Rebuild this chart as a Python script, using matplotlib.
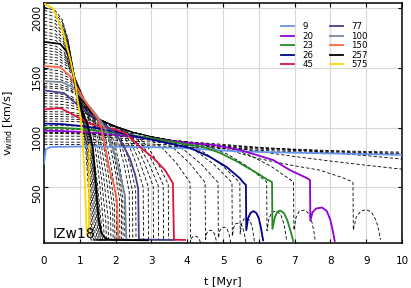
import numpy as np
import matplotlib.pyplot as plt

# ---------------- coloured tracks (initial mass in Msun) ----------------
masses = [9, 20, 23, 26, 45, 77, 100, 150, 257, 575]
colors = ['#6495ed', '#9400d3', '#228b22', '#00008b', '#dc143c',
          '#483d8b', '#778899', '#ff6347', 'k', '#ffd700']

t_9 = [0, 0.05, 0.2, 1, 2, 3, 3.8, 5.5, 7, 8.5, 10]
v_9 = [700, 820, 838, 842, 840, 836, 830, 800, 790, 781, 772]
t_20 = [0, 0.5, 1, 1.5, 2, 2.5, 3, 3.5, 4, 4.72, 5.47, 6.4, 6.87, 7.35, 7.43,
        7.44, 7.5, 7.6, 7.77, 7.9, 8.0, 8.07, 8.12]
v_20 = [975, 972, 965, 955, 940, 925, 905, 890, 872, 856, 813, 729, 644, 576, 560,
        220, 290, 322, 330, 300, 225, 130, 50]
t_23 = [0, 0.5, 1, 1.5, 2, 2.5, 3, 3.5, 4, 4.44, 4.92, 5.4, 5.95, 6.26, 6.3, 6.37,
        6.38, 6.45, 6.52, 6.6, 6.7, 6.8, 6.9, 6.96]
v_23 = [1000, 998, 990, 975, 955, 935, 910, 885, 860, 839, 788, 715, 619, 560, 556, 542,
        150, 250, 295, 305, 285, 220, 120, 50]
t_26 = [0, 0.5, 1, 1.5, 2, 2.5, 3, 3.5, 4.08, 4.64, 5.1, 5.47, 5.56, 5.64,
        5.65, 5.7, 5.77, 5.85, 5.93, 6.0, 6.06, 6.12]
v_26 = [1034, 1030, 1015, 995, 965, 930, 900, 868, 830, 754, 670, 576, 542, 520,
        140, 240, 285, 300, 285, 240, 160, 55]
t_45 = [0, 0.45, 0.81, 1.28, 1.6, 2.0, 2.3, 2.68, 3.05, 3.38, 3.55, 3.6, 3.63, 3.94]
v_45 = [1153, 1165, 1110, 1034, 1010, 985, 950, 839, 746, 644, 560, 534, 60, 58]
t_77 = [0, 0.56, 1.1, 1.5, 1.98, 2.2, 2.4, 2.55, 2.63, 2.65, 3.6]
v_77 = [1313, 1290, 1150, 1070, 958, 860, 740, 600, 490, 62, 58]
t_100 = [0, 0.5, 0.8, 1.1, 1.4, 1.6, 1.76, 1.95, 2.1, 2.26, 2.3, 2.45]
v_100 = [1390, 1382, 1340, 1240, 1130, 1050, 958, 800, 640, 432, 62, 58]
t_150 = [0, 0.45, 0.73, 1.0, 1.2, 1.37, 1.5, 1.6, 1.7, 1.8, 1.95, 2.04, 2.07, 2.2]
v_150 = [1517, 1508, 1432, 1297, 1200, 1127, 1080, 1000, 850, 680, 520, 390, 62, 58]
t_257 = [0, 0.45, 0.64, 0.78, 0.87, 0.95, 1.09, 1.2, 1.3, 1.37, 1.43, 1.48, 1.53,
         1.6, 1.7, 1.85, 2.9]
v_257 = [1720, 1703, 1636, 1508, 1347, 1237, 1110, 1040, 930, 814, 600, 390, 220,
         120, 75, 60, 55]
t_575 = [0, 0.25, 0.53, 0.73, 0.87, 0.95, 1.02, 1.08, 1.14, 1.19, 1.22, 1.25, 1.27]
v_575 = [2042, 2000, 1805, 1576, 1381, 1212, 1090, 900, 560, 140, 95, 110, 856]

col_t = [t_9, t_20, t_23, t_26, t_45, t_77, t_100, t_150, t_257, t_575]
col_v = [v_9, v_20, v_23, v_26, v_45, v_77, v_100, v_150, v_257, v_575]

# ---------------- dashed tracks, other masses ----------------
# common "bundle" the tracks settle onto
env_t = [0.8, 1.0, 1.2, 1.4, 1.6, 1.8, 2.0, 2.5, 3.0, 3.5, 4.0, 5.0, 6.0, 8.0, 10.0]
env_v = [1170, 1140, 1112, 1088, 1062, 1035, 1010, 960, 925, 898, 880, 855, 835, 810, 795]
# shapes (relative time, relative drop)
head_s = [0, 0.3, 0.5, 0.65, 0.8, 0.9, 1.0]
head_f = [0, 0.03, 0.12, 0.3, 0.6, 0.82, 1.0]
fall_r = [0, 0.25, 0.5, 0.75, 0.9, 1.0]
fall_g = [0, 0.1, 0.3, 0.6, 0.84, 1.0]
arch_u = [0, 0.1, 0.25, 0.5, 0.7, 0.85, 0.95, 1.0]
arch_a = [0.45, 0.8, 0.97, 1.0, 0.9, 0.65, 0.35, 0.15]

# per track: start v, merge time, leave time, end time, v at collapse, arch peak, arch width
d_v0 = [2010, 1985, 1955, 1925, 1895, 1865, 1835, 1805, 1780, 1750,
        1700, 1675, 1650, 1625, 1600, 1575, 1545,
        1490, 1465, 1440, 1415,
        1370, 1350, 1335,
        1290, 1270, 1250, 1225, 1200, 1175,
        1135, 1115, 1095, 1075, 1055,
        1017, 988]
d_tc = [1.02, 1.03, 1.04, 1.05, 1.06, 1.07, 1.08, 1.09, 1.1, 1.11,
        1.14, 1.17, 1.2, 1.23, 1.26, 1.3, 1.34,
        1.38, 1.4, 1.42, 1.44,
        1.46, 1.48, 1.5,
        1.5, 1.52, 1.55, 1.58, 1.6, 1.62,
        1.7, 1.75, 1.8, 1.9, 2.0,
        2.3, 2.6]
d_tl = [1.02, 1.03, 1.04, 1.05, 1.06, 1.07, 1.08, 1.09, 1.1, 1.11,
        1.2, 1.25, 1.3, 1.35, 1.4, 1.45, 1.5,
        1.55, 1.6, 1.65, 1.7,
        1.8, 1.85, 1.9,
        1.95, 2.0, 2.05, 2.1, 2.2, 2.3,
        2.5, 2.8, 3.0, 3.3, 3.5,
        4.0, 4.5]
d_te = [1.3, 1.34, 1.38, 1.42, 1.46, 1.5, 1.53, 1.56, 1.59, 1.62,
        1.67, 1.73, 1.79, 1.86, 1.92, 1.97, 2.02,
        2.11, 2.16, 2.2, 2.25,
        2.38, 2.47, 2.56,
        2.77, 2.91, 3.05, 3.19, 3.33, 3.47,
        4.08, 4.5, 4.86, 5.25, 5.47,
        6.22, 6.97]
d_vb = [130] * 10 + [160, 200, 240, 280, 310, 340, 370] + [400, 410, 420, 430] + \
       [460, 470, 480] + [500, 505, 510, 515, 520, 525] + [540] * 5 + [545, 545]
d_arch = [0] * 30 + [90, 140, 165, 200, 240, 300, 310]
d_aw = [0] * 30 + [0.3, 0.32, 0.35, 0.38, 0.4, 0.55, 0.6]

# long-lived low-mass tracks
low_t = [0, 1, 2, 3, 4, 5, 6, 7, 8, 9, 10]
lo_a = [953, 948, 930, 905, 882, 860, 835, 815, 790, 765, 737]
lo_b = [957, 952, 935, 908, 875, 845, 800, 758, 720, 685, 652]
lo_c = [930, 928, 915, 895, 872, 852, 833, 820, 808, 800, 795]
lo_d = [905, 903, 895, 880, 862, 845, 828, 815, 803, 793, 786]
lo_e = [880, 878, 872, 862, 850, 835, 820, 808, 797, 787, 780]
lo_f = [860, 858, 855, 848, 838, 825, 810, 798, 788, 779, 774]
t_18 = [0, 1, 2, 3, 4, 5, 6, 7, 7.7, 8.3, 8.6, 8.63, 8.64, 8.72, 8.85, 9.0, 9.15,
        9.28, 9.35, 9.4]
v_18 = [962, 957, 938, 912, 880, 825, 740, 680, 644, 585, 548, 540, 140, 250, 300,
        313, 290, 220, 140, 60]

v_floor = 58
floor_run = 0.25


def dashed_track(v0, tc, tl, te, vb, arch, aw):
    vc = np.interp(tc, env_t, env_v)
    vl = np.interp(tl, env_t, env_v)
    t = [s * tc for s in head_s]
    v = [v0 + (vc - v0) * f for f in head_f]
    for a, b in zip(env_t, env_v):
        if tc < a < tl:
            t.append(a)
            v.append(b)
    for r, g in zip(fall_r, fall_g):
        t.append(tl + r * (te - tl))
        v.append(vl + (vb - vl) * g)
    if arch > 0:
        for u, a in zip(arch_u, arch_a):
            t.append(te + 0.01 + u * aw)
            v.append(arch * a)
    else:
        t += [te + 0.01, te + floor_run]
        v += [v_floor, v_floor]
    return t, v


fig = plt.figure(figsize=(4.11, 2.88), dpi=100)
ax = fig.add_axes([0.1071, 0.1552, 0.8710, 0.8361])

dash_kw = dict(color='k', lw=0.6, dashes=(4, 2.5), zorder=2)
for i in range(len(d_v0)):
    t, v = dashed_track(d_v0[i], d_tc[i], d_tl[i], d_te[i], d_vb[i], d_arch[i], d_aw[i])
    ax.plot(t, v, **dash_kw)
for lo in [lo_a, lo_b, lo_c, lo_d, lo_e, lo_f]:
    ax.plot(low_t, lo, **dash_kw)
ax.plot(t_18, v_18, **dash_kw)

for m, c, t, v in zip(masses, colors, col_t, col_v):
    ax.plot(t, v, color=c, lw=1.3, label=str(m), zorder=3)

ax.set_xlim(0, 10)
ax.set_ylim(30, 2050)
ax.set_xticks(range(0, 11))
ax.set_yticks([500, 1000, 1500, 2000])
ax.grid(True, color='#d8d8d8', lw=0.8)
ax.set_axisbelow(True)
ax.tick_params(direction='in', top=True, right=True, length=3, width=0.8,
               labelsize=7.5)
ax.tick_params(axis='x', pad=9)
ax.tick_params(axis='y', pad=1.5, labelrotation=90)
for sp in ax.spines.values():
    sp.set_linewidth(1.1)

ax.set_xlabel('t [Myr]', fontsize=8, labelpad=8)
ax.set_ylabel(r'v$_{\mathrm{wind}}$ [km/s]', fontsize=8, labelpad=12)

ax.text(0.025, 0.022, 'IZw18', transform=ax.transAxes, fontsize=10,
        ha='left', va='baseline')

ax.legend(ncol=2, frameon=False, fontsize=6.2, loc='upper left',
          bbox_to_anchor=(0.65, 0.935), borderpad=0, labelspacing=0.05,
          handlelength=1.5, handletextpad=1.0, columnspacing=1.9)

fig.savefig('out.png', dpi=100)
